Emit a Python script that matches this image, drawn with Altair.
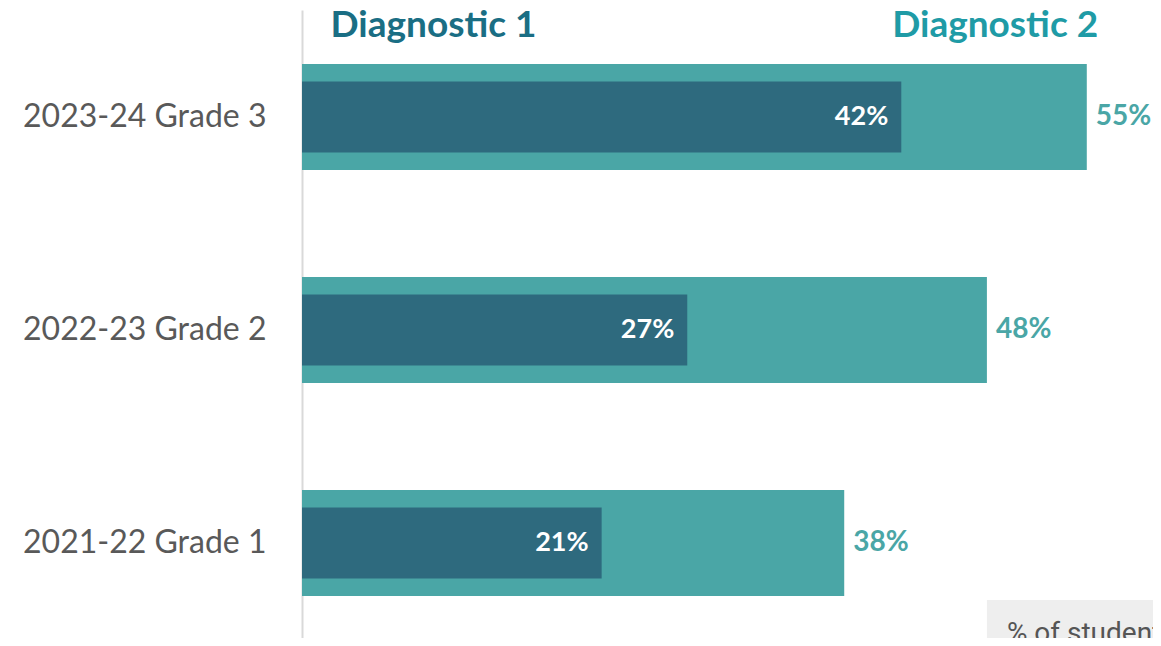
import altair as alt
import pandas as pd

categories = ["2023-24 Grade 3", "2022-23 Grade 2", "2021-22 Grade 1"]
diag1 = [42, 27, 21]
diag2 = [55, 48, 38]
headers = ["Diagnostic 1", "Diagnostic 2"]
header_x = [2.0, 55.8]
note_text = ["% of students"]
note_x = [48.0]

df = pd.DataFrame({
    "cat": categories,
    "d1": diag1,
    "d2": diag2,
    "l1": [f"{v}%" for v in diag1],
    "l2": [f"{v}%" for v in diag2],
})
hdr = pd.DataFrame({"h": headers, "x": header_x})
note = pd.DataFrame({"t": note_text, "x": note_x, "x2": [80.0]})

LIGHT = "#4AA6A6"
DARK = "#2E6A7E"

xs = alt.Scale(domain=[0, 59.64], nice=False, zero=True)
ys = alt.Scale(domain=categories, paddingInner=0.108, paddingOuter=0.0282, align=1)

base = alt.Chart(df)
yenc = alt.Y("cat:N", scale=ys, sort=categories, title=None,
             axis=alt.Axis(domainColor="#d9d9d9", domainWidth=2, ticks=False,
                           labelFont="Lato", labelFontSize=32, labelColor="#595959",
                           labelPadding=36, labelLimit=0, grid=False))
xenc_opts = dict(scale=xs, axis=None, title=None)

bar2 = base.mark_bar(size=106, color=LIGHT).encode(
    x=alt.X("d2:Q", **xenc_opts), y=yenc)
bar1 = base.mark_bar(size=71, color=DARK).encode(
    x=alt.X("d1:Q", **xenc_opts), y=yenc)
t1 = base.mark_text(align="right", baseline="middle", dx=-13, font="Lato",
                    fontWeight="bold", fontSize=27, color="white").encode(
    x=alt.X("d1:Q", **xenc_opts), y=yenc, text="l1:N")
t2 = base.mark_text(align="left", baseline="middle", dx=9, font="Lato",
                    fontWeight="bold", fontSize=28, color=LIGHT).encode(
    x=alt.X("d2:Q", **xenc_opts), y=yenc, text="l2:N")

h1 = alt.Chart(hdr).transform_filter(alt.datum.h == headers[0]).mark_text(
    align="left", baseline="alphabetic", font="Lato", fontWeight="bold",
    fontSize=37, color="#1A6E84").encode(
    x=alt.X("x:Q", **xenc_opts), y=alt.value(27), text="h:N")
h2 = alt.Chart(hdr).transform_filter(alt.datum.h == headers[1]).mark_text(
    align="right", baseline="alphabetic", font="Lato", fontWeight="bold",
    fontSize=37, color="#1F9BA6").encode(
    x=alt.X("x:Q", **xenc_opts), y=alt.value(27), text="h:N")

nbox = alt.Chart(note).mark_rect(color="#eeeeee").encode(
    x=alt.X("x:Q", **xenc_opts), x2="x2:Q", y=alt.value(590), y2=alt.value(660))
ntext = alt.Chart(note).mark_text(align="left", baseline="alphabetic", dx=20,
                                  font="Roboto", fontSize=28, color="#555555").encode(
    x=alt.X("x:Q", **xenc_opts), y=alt.value(632), text="t:N")

chart = alt.layer(bar2, bar1, t1, t2, h1, h2, nbox, ntext).properties(
    width=851, height=628,
    autosize=alt.AutoSizeParams(type="none"),
    padding={"left": 294, "top": 2, "right": 0, "bottom": 0},
    background="white",
).configure_view(stroke=None)

chart.save("out.html", embed_options={"renderer": "svg", "actions": False})
